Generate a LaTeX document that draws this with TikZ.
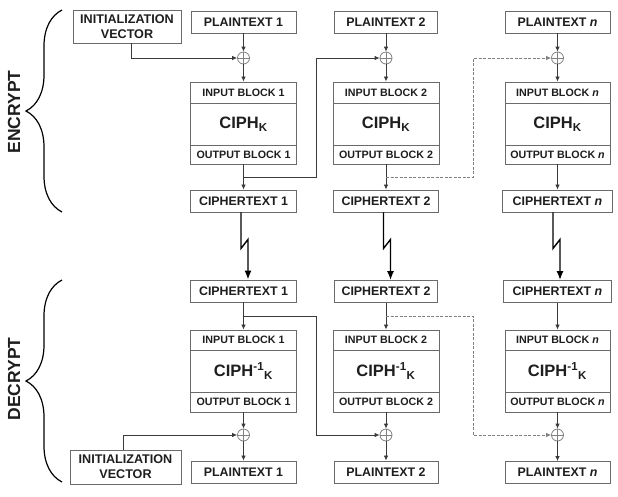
\documentclass[tikz,border=0pt]{standalone}
\usepackage{fontspec}
\setmainfont{Liberation Sans}
\usetikzlibrary{arrows.meta,calc,decorations.pathreplacing}
\definecolor{bc}{HTML}{6A6A6A}
\definecolor{lc}{HTML}{3A3A3A}
\definecolor{tc}{HTML}{1E1E1E}
\definecolor{dc}{HTML}{808080}
\begin{document}
\begin{tikzpicture}[x=1pt,y=-1pt,
 box/.style={draw=bc, line width=0.9pt, fill=white, inner sep=0pt, minimum width=106pt, text=tc, align=center, font=\bfseries\fontsize{12.4}{14}\selectfont},
 txtbox/.style={box, minimum height=22pt},
 lbl/.style={box, font=\bfseries\fontsize{10.7}{12}\selectfont},
 ciph/.style={box, minimum height=42pt, font=\bfseries\fontsize{16.5}{18}\selectfont},
 ivbox/.style={box, font=\bfseries\fontsize{12.6}{15}\selectfont},
 xor/.style={circle, draw=dc, line width=0.8pt, minimum size=12pt, inner sep=0pt, fill=white,
   path picture={\draw[dc, line width=0.6pt] (path picture bounding box.north) -- (path picture bounding box.south)
     (path picture bounding box.west) -- (path picture bounding box.east);}},
 ar/.style={draw=lc, line width=0.8pt, -{Latex[length=5pt,width=4.5pt]}},
 dar/.style={ar, draw=dc, dash pattern=on 3pt off 1.5pt},
 bolt/.style={draw=black, line width=1.4pt, -{Latex[length=9pt,width=7pt]}},
 brc/.style={decorate, decoration={brace, amplitude=36pt}, line width=1.2pt, draw=black},
 side/.style={rotate=90, text=tc, font=\bfseries\fontsize{17.5}{20}\selectfont}
]
\useasboundingbox (0,0) rectangle (618,496);
\fill[white] (0,0) rectangle (618,496);

\coordinate (k1) at (316,0);
\coordinate (k2) at (473,0);

% ---------------- ENCRYPT ----------------
\node[ivbox, minimum width=108pt, minimum height=33pt] (iv1) at (127,26.5) {INITIALIZATION\\VECTOR};
\node[txtbox, minimum width=105pt] (p1) at (243.5,22) {PLAINTEXT 1};
\node[txtbox, minimum width=103pt] (p2) at (386,22) {PLAINTEXT 2};
\node[txtbox, minimum width=105pt] (pn) at (557.5,22) {PLAINTEXT \textit{n}};

\node[xor] (x1) at (243.5,58) {};
\node[xor] (x2) at (386,58) {};
\node[xor] (xn) at (557.5,58) {};

\node[lbl, minimum height=21pt] (in1) at (243.5,92.5) {INPUT BLOCK 1};
\node[ciph] (c1) at (243.5,124) {CIPH\textsubscript{K}};
\node[lbl, minimum height=19pt] (o1) at (243.5,154.5) {OUTPUT BLOCK 1};

\node[lbl, minimum height=21pt] (in2) at (386,92.5) {INPUT BLOCK 2};
\node[ciph] (c2) at (386,124) {CIPH\textsubscript{K}};
\node[lbl, minimum height=19pt] (o2) at (386,154.5) {OUTPUT BLOCK 2};

\node[lbl, minimum width=105pt, minimum height=21pt] (inn) at (557.5,92.5) {INPUT BLOCK \textit{n}};
\node[ciph, minimum width=105pt] (cn) at (557.5,124) {CIPH\textsubscript{K}};
\node[lbl, minimum width=105pt, minimum height=19pt] (on) at (557.5,154.5) {OUTPUT BLOCK \textit{n}};

\node[txtbox] (ct1) at (243.5,201) {CIPHERTEXT 1};
\node[txtbox, minimum width=105pt] (ct2) at (386,201) {CIPHERTEXT 2};
\node[txtbox, minimum width=110pt] (ctn) at (557.5,201) {CIPHERTEXT \textit{n}};

\draw[ar] (p1) -- (x1);
\draw[ar] (p2) -- (x2);
\draw[ar] (pn) -- (xn);
\draw[ar] (x1) -- (in1);
\draw[ar] (x2) -- (in2);
\draw[ar] (xn) -- (inn);
\draw[ar] ([xshift=4pt]iv1.south) |- (x1);
\draw[ar] (o1) -- (ct1);
\draw[ar] (o2) -- (ct2);
\draw[ar] (on) -- (ctn);
\draw[ar] ($(o1.south)!.5!(ct1.north)$) -| (k1 |- x2) -- (x2);
\draw[dar] ($(o2.south)!.5!(ct2.north)$) -| (k2 |- xn) -- (xn);

% ---------------- DECRYPT ----------------
\node[txtbox] (dct1) at (243.5,291) {CIPHERTEXT 1};
\node[txtbox, minimum width=103pt] (dct2) at (386,291.5) {CIPHERTEXT 2};
\node[txtbox, minimum width=108pt] (dctn) at (557.5,291.5) {CIPHERTEXT \textit{n}};

\node[lbl, minimum height=20pt] (din1) at (243.5,340) {INPUT BLOCK 1};
\node[ciph] (dc1) at (243.5,371) {CIPH\textsuperscript{-1}\textsubscript{K}};
\node[lbl, minimum height=20pt] (do1) at (243.5,402) {OUTPUT BLOCK 1};

\node[lbl, minimum height=20pt] (din2) at (386,340) {INPUT BLOCK 2};
\node[ciph] (dc2) at (386,371) {CIPH\textsuperscript{-1}\textsubscript{K}};
\node[lbl, minimum height=20pt] (do2) at (386,402) {OUTPUT BLOCK 2};

\node[lbl, minimum width=105pt, minimum height=20pt] (dinn) at (557.5,340) {INPUT BLOCK \textit{n}};
\node[ciph, minimum width=105pt] (dcn) at (557.5,371) {CIPH\textsuperscript{-1}\textsubscript{K}};
\node[lbl, minimum width=105pt, minimum height=20pt] (don) at (557.5,402) {OUTPUT BLOCK \textit{n}};

\node[xor] (dx1) at (243.5,435) {};
\node[xor] (dx2) at (386,435) {};
\node[xor] (dxn) at (557.5,435) {};

\node[txtbox, minimum width=105pt] (dp1) at (243.5,472) {PLAINTEXT 1};
\node[txtbox, minimum width=104pt] (dp2) at (386,472) {PLAINTEXT 2};
\node[txtbox, minimum width=105pt] (dpn) at (557.5,472.5) {PLAINTEXT \textit{n}};
\node[ivbox, minimum width=111pt, minimum height=34pt] (div) at (125.5,467) {INITIALIZATION\\VECTOR};

\draw[ar] (dct1) -- (din1);
\draw[ar] (dct2) -- (din2);
\draw[ar] (dctn) -- (dinn);
\draw[ar] (do1) -- (dx1);
\draw[ar] (do2) -- (dx2);
\draw[ar] (don) -- (dxn);
\draw[ar] (dx1) -- (dp1);
\draw[ar] (dx2) -- (dp2);
\draw[ar] (dxn) -- (dpn);
\draw[ar] ([xshift=-2.5pt]div.north) |- (dx1);
\draw[ar] ($(dct1.south)!.5!(din1.north)$) -| (k1 |- dx2) -- (dx2);
\draw[dar] ($(dct2.south)!.5!(din2.north)$) -| (k2 |- dxn) -- (dxn);

% ---------------- transmission ----------------
\draw[bolt] ([xshift=-2.5pt]ct1.south) -- ++(0,36) -- ++(7,-9) -- ([xshift=4.5pt]dct1.north);
\draw[bolt] ([xshift=-2.5pt]ct2.south) -- ++(0,36) -- ++(7,-9) -- ([xshift=4.5pt]dct2.north);
\draw[bolt] ([xshift=-4.5pt]ctn.south) -- ++(0,36) -- ++(7,-9) -- ([xshift=2.5pt]dctn.north);

% ---------------- braces ----------------
\draw[brc] (62,212) -- (62,10);
\draw[brc] (62,482) -- (62,280);
\node[side] (enc) at (14,112) {ENCRYPT};
\node[side] (dec) at (14,379) {DECRYPT};
\end{tikzpicture}
\end{document}
